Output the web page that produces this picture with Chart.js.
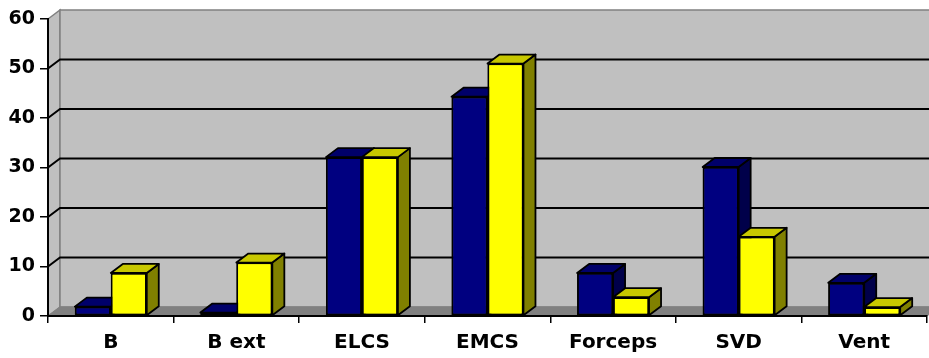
<!DOCTYPE html>
<html>
<head>
<meta charset="utf-8">
<title>Chart</title>
<script src="https://cdn.jsdelivr.net/npm/chart.js@4.4.1/dist/chart.umd.min.js"></script>
<style>
  html, body { margin: 0; padding: 0; background: #fff; }
  canvas { display: block; }
</style>
</head>
<body>
<canvas id="chart" width="929" height="358"></canvas>
<script>
// Values
const categories = ['B', 'B ext', 'ELCS', 'EMCS', 'Forceps', 'SVD', 'Vent'];
const blueValues = [1.9, 0.7, 32.1, 44.3, 8.7, 30.1, 6.7];
const yellowValues = [8.7, 10.8, 32.1, 51.0, 3.8, 16.0, 1.8];
const yTicks = [0, 10, 20, 30, 40, 50, 60];

// depth offset of the fake 3D look
const DX = 12, DY = 9;

function poly(ctx, pts, fill, stroke, lw) {
    ctx.beginPath();
    ctx.moveTo(pts[0][0], pts[0][1]);
    for (let i = 1; i < pts.length; i++) ctx.lineTo(pts[i][0], pts[i][1]);
    ctx.closePath();
    if (fill) { ctx.fillStyle = fill; ctx.fill(); }
    if (stroke) { ctx.strokeStyle = stroke; ctx.lineWidth = lw || 1; ctx.stroke(); }
}

// side wall, back wall, floor and the back-wall gridlines
const wallsPlugin = {
    id: 'walls',
    beforeDraw(chart) {
        const { ctx, chartArea: a } = chart;
        const y = chart.scales.y;
        ctx.save();
        poly(ctx, [[a.left, a.top], [a.left + DX, a.top - DY], [a.left + DX, a.bottom - DY], [a.left, a.bottom]], '#c0c0c0', '#808080', 1.5);
        poly(ctx, [[a.left + DX, a.top - DY], [a.right + DX, a.top - DY], [a.right + DX, a.bottom - DY], [a.left + DX, a.bottom - DY]], '#c0c0c0', '#808080', 1.5);
        poly(ctx, [[a.left, a.bottom], [a.left + DX, a.bottom - DY], [a.right + DX, a.bottom - DY], [a.right, a.bottom]], '#808080', '#808080', 1);
        ctx.strokeStyle = '#000';
        ctx.lineWidth = 2;
        y.ticks.forEach(t => {
            if (t.value <= y.min || t.value >= y.max) return;
            const py = y.getPixelForValue(t.value);
            ctx.beginPath();
            ctx.moveTo(a.left, py);
            ctx.lineTo(a.left + DX, py - DY);
            ctx.lineTo(a.right + DX, py - DY);
            ctx.stroke();
        });
        ctx.restore();
    }
};

// bars are redrawn category by category, left bar first, each with its top and side face
const barFacesPlugin = {
    id: 'barFaces',
    afterDatasetsDraw(chart) {
        const ctx = chart.ctx;
        ctx.save();
        ctx.lineJoin = 'round';
        categories.forEach((c, i) => {
            chart.data.datasets.forEach((ds, d) => {
                const el = chart.getDatasetMeta(d).data[i];
                if (!el) return;
                el.draw(ctx);
                const p = el.getProps(['x', 'y', 'base', 'width'], true);
                const x0 = p.x - p.width / 2, x1 = p.x + p.width / 2;
                poly(ctx, [[x1, p.y], [x1 + DX, p.y - DY], [x1 + DX, p.base - DY], [x1, p.base]], ds.sideColor, '#000', 1.8);
                poly(ctx, [[x0, p.y], [x0 + DX, p.y - DY], [x1 + DX, p.y - DY], [x1, p.y]], ds.topColor, '#000', 1.8);
            });
        });
        ctx.restore();
    }
};

Chart.defaults.font.family = "'DejaVu Sans', 'Liberation Sans', Arial, sans-serif";
Chart.defaults.font.weight = 'bold';
Chart.defaults.color = '#000';

new Chart(document.getElementById('chart'), {
    type: 'bar',
    data: {
        labels: categories,
        datasets: [
            {
                data: blueValues,
                backgroundColor: '#000080',
                topColor: '#00006a',
                sideColor: '#00004a',
                borderColor: '#000',
                borderWidth: 1.8,
                borderSkipped: false
            },
            {
                data: yellowValues,
                backgroundColor: '#ffff00',
                topColor: '#c8c800',
                sideColor: '#808000',
                borderColor: '#000',
                borderWidth: 1.8,
                borderSkipped: false
            }
        ]
    },
    options: {
        responsive: false,
        animation: false,
        events: [],
        layout: { padding: { top: 19, right: 2, left: 0, bottom: 0 } },
        datasets: { bar: { categoryPercentage: 0.573, barPercentage: 1 } },
        plugins: { legend: { display: false }, tooltip: { enabled: false } },
        scales: {
            x: {
                grid: { offset: true, drawOnChartArea: false, tickLength: 7, color: '#000', tickColor: '#000', lineWidth: 1.5 },
                border: { color: '#000', width: 2 },
                ticks: { font: { size: 20, weight: 'bold' }, padding: 8, maxRotation: 0 },
                afterFit: s => { s.height = 42; }
            },
            y: {
                min: 0,
                max: 60,
                afterBuildTicks: s => { s.ticks = yTicks.map(v => ({ value: v })); },
                grid: { drawOnChartArea: false, tickLength: 8, color: '#000', tickColor: '#000', lineWidth: 1.5 },
                border: { color: '#000', width: 2 },
                ticks: { font: { size: 19, weight: 'bold' }, padding: 5 },
                afterFit: s => { s.width = 48; }
            }
        }
    },
    plugins: [wallsPlugin, barFacesPlugin]
});
</script>
</body>
</html>
